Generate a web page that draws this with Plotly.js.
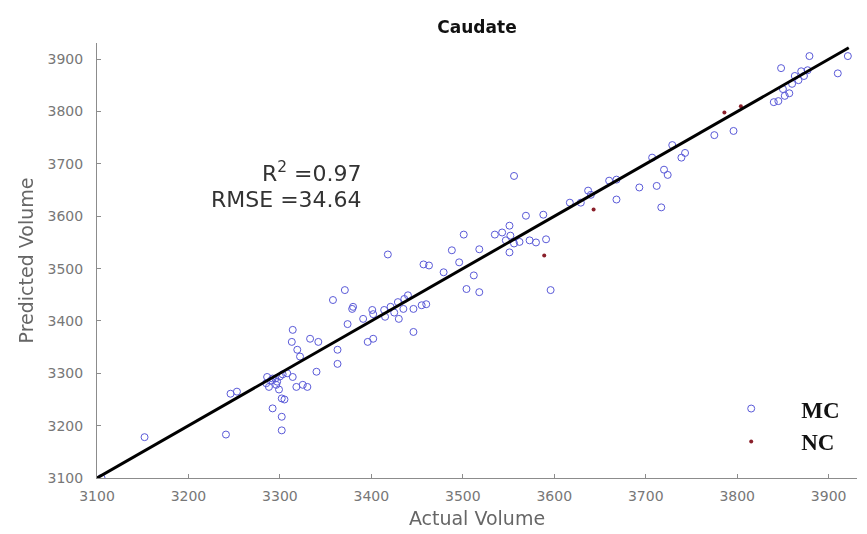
<!DOCTYPE html>
<html>
<head>
<meta charset="utf-8">
<script src="https://cdn.plot.ly/plotly-3.0.1.min.js"></script>
<style>
  html, body { margin: 0; padding: 0; background: #ffffff; }
  #chart { width: 867px; height: 534px; }
</style>
</head>
<body>
<div id="chart"></div>
<script>
// Caudate volume: actual vs predicted
var mcActual = [
  3105, 3152, 3241, 3246, 3253, 3286, 3292, 3297, 3288, 3296,
  3299, 3302, 3305, 3292, 3302, 3302, 3314, 3318, 3325, 3330,
  3313, 3314, 3319, 3322, 3333, 3342, 3340, 3363, 3363, 3358,
  3371, 3379, 3374, 3380, 3401, 3391, 3402, 3414, 3421, 3429,
  3436, 3440, 3430, 3446, 3455, 3460, 3446, 3396, 3402, 3418,
  3457, 3463, 3479, 3496, 3488, 3501, 3518, 3512, 3504, 3518,
  3535, 3543, 3551, 3552, 3547, 3551, 3556, 3569, 3588, 3573,
  3580, 3591, 3596, 3617, 3629, 3640, 3637, 3660, 3668, 3668,
  3693, 3712, 3717, 3707, 3720, 3724, 3729, 3743, 3739, 3775,
  3796, 3848, 3845, 3852, 3857, 3863, 3870, 3877, 3879, 3910,
  3921, 3840, 3850, 3860, 3867, 3873, 3290, 3295, 3300, 3303,
  3308, 3285, 3415, 3425, 3435, 3556, 3562
];
var mcPredicted = [
  3100, 3178, 3183, 3261, 3265, 3293, 3290, 3284, 3274, 3278,
  3269, 3252, 3250, 3233, 3217, 3191, 3293, 3274, 3278, 3274,
  3360, 3383, 3345, 3332, 3366, 3360, 3303, 3345, 3318, 3440,
  3459, 3423, 3394, 3427, 3421, 3404, 3413, 3421, 3427, 3436,
  3442, 3449, 3404, 3423, 3430, 3432, 3379, 3360, 3366, 3527,
  3508, 3506, 3493, 3512, 3535, 3565, 3537, 3487, 3461, 3455,
  3565, 3569, 3582, 3563, 3554, 3531, 3677, 3601, 3603, 3554,
  3550, 3556, 3459, 3626, 3626, 3641, 3649, 3668, 3670, 3632,
  3655, 3658, 3617, 3712, 3689, 3679, 3736, 3721, 3712, 3755,
  3763, 3883, 3820, 3830, 3835, 3868, 3877, 3879, 3906, 3873,
  3906, 3818, 3843, 3853, 3860, 3868, 3286, 3290, 3294, 3298,
  3300, 3281, 3408, 3416, 3423, 3548, 3551
];
var ncActual = [3589, 3643, 3786, 3804];
var ncPredicted = [3525, 3613, 3798, 3810];

// Identity reference line
var fitX = [3100, 3922];
var fitY = [3100, 3922];

var tickVals = [3100, 3200, 3300, 3400, 3500, 3600, 3700, 3800, 3900];
var tickText = ['3100', '3200', '3300', '3400', '3500', '3600', '3700', '3800', '3900'];

var traces = [
  {
    x: mcActual, y: mcPredicted,
    type: 'scatter', mode: 'markers', name: 'MC',
    legendgroup: 'mc',
    marker: { symbol: 'circle-open', size: 7, color: '#3b3bd0', line: { width: 1, color: '#3b3bd0' } },
    opacity: 0.85
  },
  {
    x: ncActual, y: ncPredicted,
    type: 'scatter', mode: 'markers', name: 'NC',
    legendgroup: 'nc',
    marker: { symbol: 'circle', size: 4, color: '#8a1f2a' }
  },
  {
    x: fitX, y: fitY,
    type: 'scatter', mode: 'lines', showlegend: false,
    line: { color: '#000000', width: 3 },
    hoverinfo: 'skip'
  }
];

var axisCommon = {
  showgrid: false, zeroline: false,
  showline: true, linecolor: '#8c8c8c', linewidth: 1,
  ticks: 'inside', ticklen: 4, tickcolor: '#8c8c8c', tickwidth: 1,
  tickvals: tickVals, ticktext: tickText,
  tickfont: { family: 'DejaVu Sans', size: 14, color: '#777777' },
  mirror: false
};

var layout = {
  width: 867, height: 534,
  margin: { l: 97, r: 10, t: 43, b: 56 },
  paper_bgcolor: '#ffffff', plot_bgcolor: '#ffffff',
  showlegend: true,
  title: {
    text: '<b>Caudate</b>',
    font: { family: 'DejaVu Sans', size: 17, color: '#111111' },
    x: 0.5, xref: 'paper', xanchor: 'center',
    y: 1 - 27 / 534, yref: 'container', yanchor: 'middle'
  },
  xaxis: Object.assign({}, axisCommon, {
    range: [3100, 3931],
    ticklabelstandoff: 5,
    title: { text: 'Actual Volume', font: { family: 'DejaVu Sans', size: 19, color: '#666666' }, standoff: 8 }
  }),
  yaxis: Object.assign({}, axisCommon, {
    range: [3100, 3931],
    ticklabelstandoff: 10,
    title: { text: 'Predicted Volume', font: { family: 'DejaVu Sans', size: 19, color: '#666666' }, standoff: 8 }
  }),
  legend: {
    x: 0.795, y: 0.209, xanchor: 'left', yanchor: 'top',
    bgcolor: 'rgba(0,0,0,0)', borderwidth: 0,
    font: { family: 'Liberation Serif', size: 23, color: '#111111', weight: 'bold' },
    itemwidth: 90,
    tracegroupgap: 0
  },
  annotations: [
    {
      xref: 'paper', yref: 'paper', x: 0.351, y: 0.704,
      xanchor: 'right', yanchor: 'middle', showarrow: false,
      text: 'R<sup>2</sup> =0.97',
      font: { family: 'DejaVu Sans', size: 22, color: '#333333' }
    },
    {
      xref: 'paper', yref: 'paper', x: 0.351, y: 0.640,
      xanchor: 'right', yanchor: 'middle', showarrow: false,
      text: 'RMSE =34.64',
      font: { family: 'DejaVu Sans', size: 22, color: '#333333' }
    }
  ]
};

Plotly.newPlot('chart', traces, layout, { displayModeBar: false, staticPlot: true });
</script>
</body>
</html>
